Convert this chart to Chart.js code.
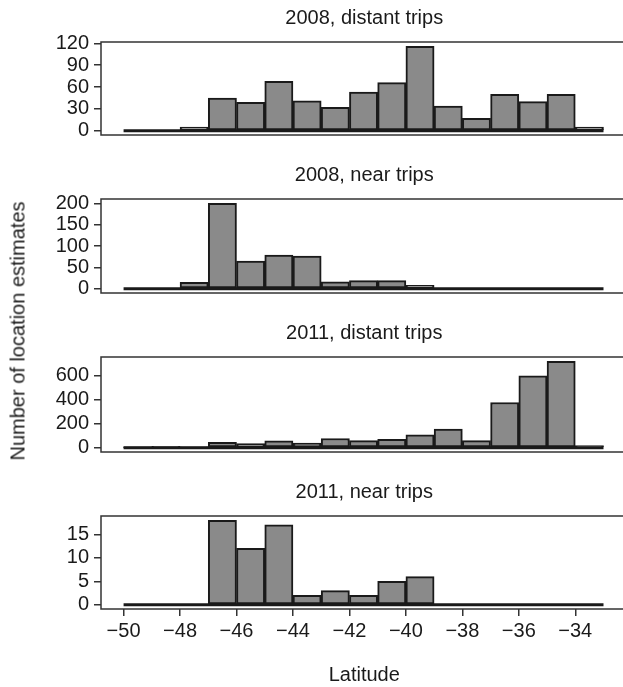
<!DOCTYPE html>
<html>
<head>
<meta charset="utf-8">
<script src="https://cdn.jsdelivr.net/npm/chart.js@4/dist/chart.umd.min.js"></script>
<style>
  html, body { margin: 0; padding: 0; background: #fff; overflow: hidden; width: 623px; height: 687px; }
  .panel { position: absolute; left: 0; width: 640px; }
  #ytitle {
    position: absolute; left: 18px; top: 331px;
    transform: translate(-50%, -50%) rotate(-90deg);
    font: 20px "Liberation Sans", Arial, sans-serif; color: #1a1a1a; white-space: nowrap;
  }
</style>
</head>
<body>
<div class="panel" style="top:0px;height:150px"><canvas id="c1"></canvas></div>
<div class="panel" style="top:157px;height:151px"><canvas id="c2"></canvas></div>
<div class="panel" style="top:315px;height:152px"><canvas id="c3"></canvas></div>
<div class="panel" style="top:474px;height:213px"><canvas id="c4"></canvas></div>
<div id="ytitle">Number of location estimates</div>
<script>
// bin left edges (latitude), bins are 1 degree wide
const binStarts = [-50, -49, -48, -47, -46, -45, -44, -43, -42, -41, -40, -39, -38, -37, -36, -35, -34];

const distant2008 = [0, 0, 5, 45, 39, 68, 41, 32, 53, 66, 116, 34, 17, 50, 40, 50, 5];
const near2008 = [0, 0, 15, 201, 65, 79, 77, 16, 19, 19, 8, 0, 0, 0, 0, 0, 0];
const distant2011 = [1, 11, 2, 45, 34, 56, 39, 76, 59, 70, 107, 154, 59, 376, 597, 718, 17];
const near2011 = [0, 0, 0, 18, 12, 17, 2, 3, 2, 5, 6, 0, 0, 0, 0, 0, 0];

const yTicks1 = [0, 30, 60, 90, 120];
const yTicks2 = [0, 50, 100, 150, 200];
const yTicks3 = [0, 200, 400, 600];
const yTicks4 = [0, 5, 10, 15];
const xTicks = [-50, -48, -46, -44, -42, -40, -38, -36, -34];

const FONT = "'Liberation Sans', Arial, sans-serif";
const INK = '#1a1a1a';
Chart.defaults.font.family = FONT;
Chart.defaults.color = INK;

const framePlugin = {
  id: 'frame',
  afterDraw(chart) {
    const a = chart.chartArea;
    const ctx = chart.ctx;
    ctx.save();
    ctx.strokeStyle = '#333';
    ctx.lineWidth = 1.5;
    ctx.strokeRect(a.left, a.top, a.right - a.left, a.bottom - a.top);
    ctx.restore();
  }
};

function makePanel(id, title, values, yTicks, showX) {
  const ymax = Math.max(...values);
  const bars = binStarts.map((b, i) => ({ x: b + 0.5, y: values[i] }));
  const base = [{ x: binStarts[0], y: 0 }, { x: binStarts[binStarts.length - 1] + 1, y: 0 }];

  new Chart(document.getElementById(id), {
    type: 'bar',
    data: {
      datasets: [
        {
          type: 'line',
          data: base,
          borderColor: INK,
          borderWidth: 3,
          pointRadius: 0,
          order: 0
        },
        {
          data: bars,
          backgroundColor: '#8a8a8a',
          borderColor: INK,
          borderWidth: 2,
          borderSkipped: false,
          barPercentage: 1,
          categoryPercentage: 1,
          order: 1
        }
      ]
    },
    options: {
      responsive: true,
      maintainAspectRatio: false,
      animation: false,
      devicePixelRatio: 1,
      layout: { padding: { top: 0, right: 12.5, bottom: 0, left: 0 } },
      plugins: {
        legend: { display: false },
        tooltip: { enabled: false },
        title: {
          display: true,
          fullSize: false,
          text: title,
          color: INK,
          font: { size: 20, weight: 'normal' },
          padding: { top: 6, bottom: 12 }
        }
      },
      scales: {
        x: {
          type: 'linear',
          min: -50.8,
          max: -32.15,
          offset: false,
          display: showX,
          afterBuildTicks: s => { s.ticks = xTicks.map(v => ({ value: v })); },
          afterFit: s => { if (showX) s.height = 78; else s.height = 0; },
          grid: { offset: false, drawOnChartArea: false, drawTicks: true, tickLength: 7, color: '#333', lineWidth: 1.5 },
          border: { display: false },
          ticks: {
            padding: 3,
            font: { size: 20 },
            color: INK,
            maxRotation: 0,
            autoSkip: false,
            callback: v => String(v).replace('-', '\u2212')
          },
          title: {
            display: showX,
            text: 'Latitude',
            color: INK,
            font: { size: 20 },
            padding: { top: 0, bottom: 0 }
          }
        },
        y: {
          min: -0.05 * ymax,
          max: 1.05 * ymax,
          afterBuildTicks: s => { s.ticks = yTicks.map(v => ({ value: v })); },
          afterFit: s => { s.width = 101; },
          grid: { drawOnChartArea: false, drawTicks: true, tickLength: 7, color: '#333', lineWidth: 1.5 },
          border: { display: false },
          ticks: { padding: 5, font: { size: 20, lineHeight: 1 }, color: INK, autoSkip: false }
        }
      }
    },
    plugins: [framePlugin]
  });
}

makePanel('c1', '2008, distant trips', distant2008, yTicks1, false);
makePanel('c2', '2008, near trips', near2008, yTicks2, false);
makePanel('c3', '2011, distant trips', distant2011, yTicks3, false);
makePanel('c4', '2011, near trips', near2011, yTicks4, true);
</script>
</body>
</html>
